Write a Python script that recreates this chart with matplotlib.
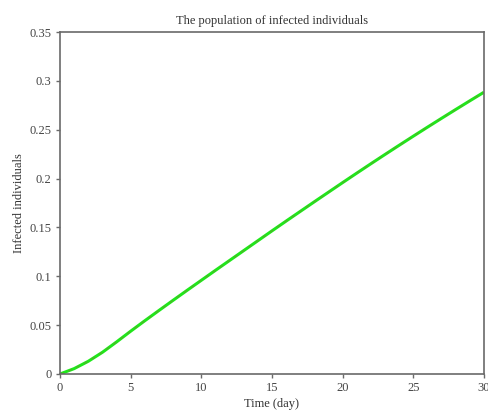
import numpy as np
import matplotlib.pyplot as plt

# time in days and infected population
days = np.arange(0, 31)
infected = [0.0000, 0.0055, 0.0130, 0.0222, 0.0328, 0.0438, 0.0545, 0.0650, 0.0754, 0.0857,
            0.0959, 0.1061, 0.1162, 0.1263, 0.1364, 0.1465, 0.1565, 0.1664, 0.1763, 0.1861,
            0.1959, 0.2056, 0.2152, 0.2247, 0.2341, 0.2434, 0.2526, 0.2617, 0.2707, 0.2796,
            0.2884]

xticks = [0, 5, 10, 15, 20, 25, 30]
yticks = [0, 0.05, 0.1, 0.15, 0.2, 0.25, 0.3, 0.35]
yticklabels = ['0', '0.05', '0.1', '0.15', '0.2', '0.25', '0.3', '0.35']

plt.rcParams['font.family'] = ['Liberation Serif', 'DejaVu Serif']

fig = plt.figure(figsize=(4.89, 4.12), dpi=100)
ax = fig.add_axes([60 / 489, 38 / 412, 424 / 489, 342 / 412])

# green curve with a thin dashed brown curve on top
ax.plot(days, infected, color='#1ee81a', linewidth=2.2, solid_capstyle='butt')
ax.plot(days, infected, color='#a0603a', linewidth=0.7, linestyle=(0, (4, 5)), alpha=0.5)

ax.set_xlim(0, 30)
ax.set_ylim(0, 0.35)
ax.set_xticks(xticks)
ax.set_yticks(yticks)
ax.set_yticklabels(yticklabels)

for s in ax.spines.values():
    s.set_color('#6a6a6a')
    s.set_linewidth(1.2)
ax.tick_params(direction='out', length=3, width=1, color='#6a6a6a',
               labelsize=9, labelcolor='#444444', pad=3)

ax.set_title('The population of infected individuals', fontsize=9, color='#333333', pad=6)
ax.set_xlabel('Time (day)', fontsize=9, color='#333333', labelpad=3)
ax.set_ylabel('Infected individuals', fontsize=9, color='#333333')
ax.yaxis.set_label_coords(-0.083, 0.5)

fig.savefig('out.png', dpi=100)
